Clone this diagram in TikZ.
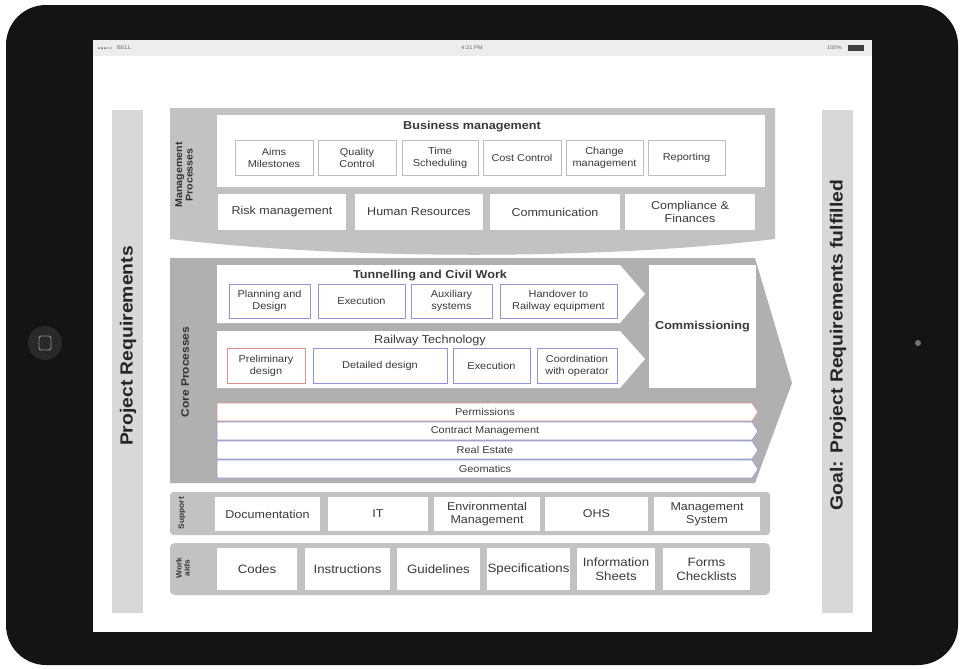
\documentclass[tikz,border=0pt]{standalone}
\usepackage{fontspec}
\setmainfont{Liberation Sans}[FakeStretch=1.1]

\definecolor{bandgray}{HTML}{C2C2C2}
\definecolor{coregray}{HTML}{B0B0B0}
\definecolor{sidegray}{HTML}{D8D8D8}
\definecolor{txt}{HTML}{3A3A3A}
\definecolor{subline}{HTML}{BDBDBD}
\definecolor{blueline}{HTML}{9595D6}
\definecolor{redline}{HTML}{DC9090}

\begin{document}
\begin{tikzpicture}[x=0.03cm, y=-0.03cm,
  size/.style 2 args = {minimum width=#1*0.03cm, minimum height=#2*0.03cm},
  cell/.style = {fill=white, inner sep=0pt, align=center, text=txt, font=\fontsize{9.7}{11.5}\selectfont},
  sub/.style = {cell, draw=subline, line width=0.5pt, font=\fontsize{8.5}{10.2}\selectfont},
  bluesub/.style = {sub, draw=blueline},
  redsub/.style = {sub, draw=redline},
  aid/.style = {cell, font=\fontsize{10.3}{12}\selectfont},
  title/.style = {text=txt, font=\bfseries\fontsize{9.8}{11}\selectfont},
  side/.style = {rotate=90, text=black!85, font=\bfseries\fontsize{15}{17}\selectfont},
  lane/.style = {rotate=90, align=center, text=black!80, font=\bfseries\fontsize{8.3}{9}\selectfont},
  stripe/.style = {cell, font=\fontsize{8.5}{10}\selectfont},
  status/.style = {text=black!60, font=\fontsize{4.5}{5}\selectfont}]

  % tablet and screen
  \fill[white] (0,0) rectangle (963,668);
  \fill[black!92, rounded corners=1.2cm] (6,5) rectangle (958,665);
  \fill[white] (93,40) rectangle (872,632);
  \fill[black!7] (93,40) rectangle (872,56);
  \fill[black!84] (45,343) circle (17);
  \draw[black!45, line width=0.8pt, rounded corners=2pt] (39,336) rectangle (51,350);
  \fill[black!55] (918,343) circle (3);

  % status bar
  \foreach \i in {0,1,2} \fill[black!60] (99+\i*3,48) circle (1);
  \foreach \i in {3,4} \draw[black!50, line width=0.2pt] (99+\i*3,48) circle (1);
  \node[status, anchor=west] (carrier) at (113,48) {BELL};
  \node[status] (clock) at (472,48) {4:21 PM};
  \node[status, anchor=east] (battext) at (846,48) {100\%};
  \fill[black!75] (848,45) rectangle (864,51);

  % side bars
  \fill[sidegray] (112,110) rectangle (143,613);
  \node[side] (req) at (128,346) {Project Requirements};
  \fill[sidegray] (822,110) rectangle (853,613);
  \node[side] (goal) at (838,345) {Goal: Project Requirements fulfilled};

  % management processes
  \fill[bandgray] (170,108) -- (775,108) -- (775,239) .. controls (600,260) and (350,260) .. (170,239) -- cycle;
  \node[lane] (mgmt) at (184,175) {Management\\Processes};
  \node[cell, size={548}{72}] (business) at (491,151) {};
  \node[title] (bustitle) at (472,127) {Business management};
  \node[sub, size={78}{35}] (aims) at (274,157.5) {Aims\\Milestones};
  \node[sub, size={78}{35}] (quality) at (357,157.5) {Quality\\Control};
  \node[sub, size={76}{35}] (time) at (440,157.5) {Time\\Scheduling};
  \node[sub, size={78}{35}] (cost) at (522,157.5) {Cost Control};
  \node[sub, size={77}{35}] (change) at (604.5,157.5) {Change\\management};
  \node[sub, size={77}{35}] (report) at (686.5,157.5) {Reporting};
  \node[cell, size={128}{36}] (risk) at (282,212) {Risk management};
  \node[cell, size={128}{36}] (human) at (419,212) {Human Resources};
  \node[cell, size={130}{36}] (comm) at (555,212) {Communication};
  \node[cell, size={130}{36}] (compl) at (690,212) {Compliance \&\\Finances};

  % core processes
  \fill[coregray] (170,258) -- (755,258) -- (792,383) -- (755,483) -- (170,483) -- cycle;
  \node[lane, font=\bfseries\fontsize{9.3}{10}\selectfont] (core) at (185,372) {Core Processes};
  \fill[white] (217,265) -- (620,265) -- (645,294) -- (620,323) -- (217,323) -- cycle;
  \node[title] (tunnel) at (430,276) {Tunnelling and Civil Work};
  \node[bluesub, size={81}{34}] (plan) at (269.5,301) {Planning and\\Design};
  \node[bluesub, size={87}{34}] (exec) at (361.5,301) {Execution};
  \node[bluesub, size={81}{34}] (aux) at (451.5,301) {Auxiliary\\systems};
  \node[bluesub, size={117}{34}] (handover) at (558.5,301) {Handover to\\Railway equipment};
  \fill[white] (217,331) -- (620,331) -- (645,359) -- (620,388) -- (217,388) -- cycle;
  \node[text=txt, font=\fontsize{9.8}{11}\selectfont] (railway) at (430,341) {Railway Technology};
  \node[redsub, size={78}{35}] (prelim) at (266,365.5) {Preliminary\\design};
  \node[bluesub, size={134}{35}] (detailed) at (380,365.5) {Detailed design};
  \node[bluesub, size={77}{35}] (railexec) at (491.5,365.5) {Execution};
  \node[bluesub, size={80}{35}] (coord) at (577,365.5) {Coordination\\with operator};
  \node[cell, size={107}{123}, font=\bfseries\fontsize{9.8}{11}\selectfont] (commission) at (702.5,326.5) {Commissioning};

  % cross-cutting stripes
  \filldraw[fill=white, draw=redline, line width=0.5pt] (217,403) -- (752,403) -- (758,412) -- (752,421) -- (217,421) -- cycle;
  \node[stripe] (perm) at (485,412) {Permissions};
  \filldraw[fill=white, draw=blueline, line width=0.5pt] (217,422) -- (752,422) -- (758,431) -- (752,440) -- (217,440) -- cycle;
  \node[stripe] (contract) at (485,431) {Contract Management};
  \filldraw[fill=white, draw=blueline, line width=0.5pt] (217,441) -- (752,441) -- (758,450) -- (752,459) -- (217,459) -- cycle;
  \node[stripe] (estate) at (485,450) {Real Estate};
  \filldraw[fill=white, draw=blueline, line width=0.5pt] (217,460) -- (752,460) -- (758,469) -- (752,478) -- (217,478) -- cycle;
  \node[stripe] (geo) at (485,469) {Geomatics};

  % support
  \fill[bandgray, rounded corners=3pt] (170,492) rectangle (770,535);
  \node[lane, font=\bfseries\fontsize{6.5}{7}\selectfont] (support) at (182,513) {Support};
  \node[cell, size={105}{34}] (doc) at (267.5,514) {Documentation};
  \node[cell, size={100}{34}] (it) at (378,514) {IT};
  \node[cell, size={106}{34}] (env) at (487,514) {Environmental\\Management};
  \node[cell, size={103}{34}] (ohs) at (596.5,514) {OHS};
  \node[cell, size={106}{34}] (mgmtsys) at (707,514) {Management\\System};

  % work aids
  \fill[bandgray, rounded corners=4pt] (170,543) rectangle (770,595);
  \node[lane, font=\bfseries\fontsize{6.5}{6.8}\selectfont] (aids) at (183,568) {Work\\aids};
  \node[aid, size={80}{42}] (codes) at (257,569) {Codes};
  \node[aid, size={85}{42}] (instr) at (347.5,569) {Instructions};
  \node[aid, size={83}{42}] (guide) at (438.5,569) {Guidelines};
  \node[aid, size={83}{42}] (spec) at (528.5,569) {Specifications};
  \node[aid, size={78}{42}] (info) at (616,569) {Information\\Sheets};
  \node[aid, size={87}{42}] (forms) at (706.5,569) {Forms\\Checklists};
\end{tikzpicture}
\end{document}
